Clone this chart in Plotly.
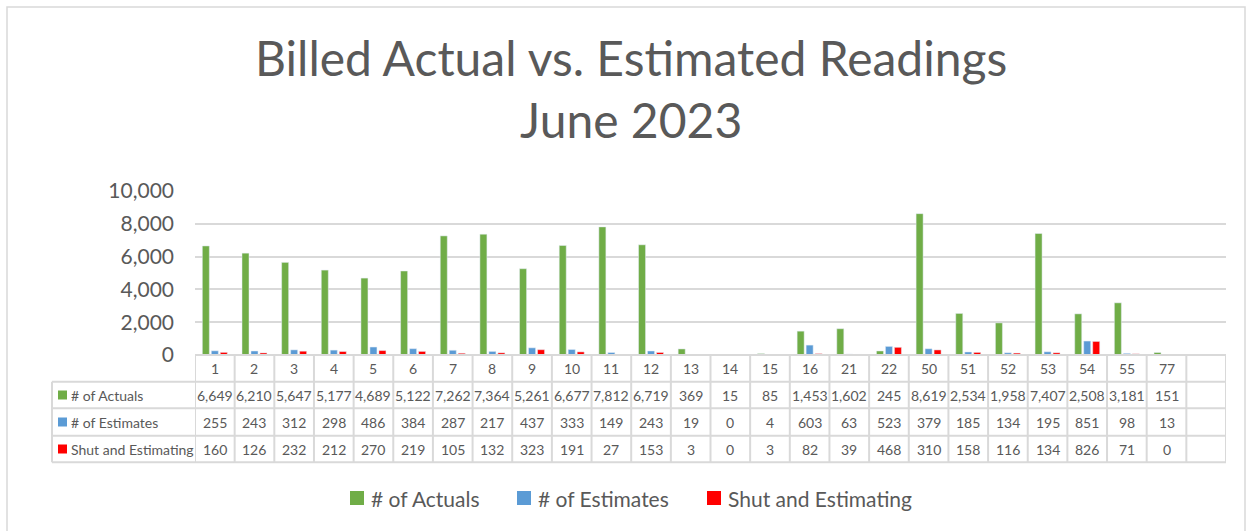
import plotly.graph_objects as go

# district / cycle codes along the x axis (last column of the table is blank)
districts = ["1", "2", "3", "4", "5", "6", "7", "8", "9", "10", "11", "12", "13",
             "14", "15", "16", "21", "22", "50", "51", "52", "53", "54", "55", "77"]
actuals = [6649, 6210, 5647, 5177, 4689, 5122, 7262, 7364, 5261, 6677, 7812, 6719, 369,
           15, 85, 1453, 1602, 245, 8619, 2534, 1958, 7407, 2508, 3181, 151]
estimates = [255, 243, 312, 298, 486, 384, 287, 217, 437, 333, 149, 243, 19,
             0, 4, 603, 63, 523, 379, 185, 134, 195, 851, 98, 13]
shut_est = [160, 126, 232, 212, 270, 219, 105, 132, 323, 191, 27, 153, 3,
            0, 3, 82, 39, 468, 310, 158, 116, 134, 826, 71, 0]

series = [("# of Actuals", actuals, "#70AD47"),
          ("# of Estimates", estimates, "#5B9BD5"),
          ("Shut and Estimating", shut_est, "#FF0000")]

FONT = "Lato, Roboto, sans-serif"
GREY = "#595959"
LINE = "#D9D9D9"

cats = districts + [" "]
ncol = len(cats)

fig = go.Figure()
for name, vals, col in series:
    fig.add_trace(go.Bar(x=districts, y=vals, name=name, marker_color=col,
                         showlegend=False))

# plot area in pixels: x 195..1226, y 191..355
PH = 164.0
def py(pix):
    return (355 - pix) / PH

def px(pix):
    return (pix - 195) / 1031.0

row_y = [355, 381.7, 408.3, 435.7, 462.3]
shapes = []
annots = []

# horizontal table lines
for i, yy in enumerate(row_y):
    shapes.append(dict(type="line", xref="paper", yref="paper",
                       x0=px(52) if i > 0 else 0, x1=1,
                       y0=py(yy), y1=py(yy), line=dict(color=LINE, width=2)))
# vertical table lines
for k in range(ncol + 1):
    shapes.append(dict(type="line", xref="x", yref="paper",
                       x0=k - 0.5, x1=k - 0.5, y0=py(row_y[0]), y1=py(row_y[-1]),
                       line=dict(color=LINE, width=2)))
shapes.append(dict(type="line", xref="paper", yref="paper",
                   x0=px(52), x1=px(52),
                   y0=py(row_y[1]), y1=py(row_y[-1]), line=dict(color=LINE, width=2)))

cell_font = dict(size=14, color=GREY, family=FONT)

# category header row
for i, c in enumerate(districts):
    annots.append(dict(x=i, xref="x", y=py((row_y[0] + row_y[1]) / 2), yref="paper",
                       yanchor="middle", xanchor="center",
                       text=c, showarrow=False, font=cell_font))

# data rows with legend keys
for r, (name, vals, col) in enumerate(series):
    yc = (row_y[r + 1] + row_y[r + 2]) / 2
    shapes.append(dict(type="rect", xref="paper", yref="paper",
                       x0=px(58), x1=px(67),
                       y0=py(yc + 4.5), y1=py(yc - 4.5), fillcolor=col, line=dict(width=0)))
    annots.append(dict(x=px(69), xref="paper", y=py(yc), yref="paper",
                       text=name, showarrow=False, xanchor="left", yanchor="middle",
                       font=cell_font))
    for i, v in enumerate(vals):
        annots.append(dict(x=i, xref="x", y=py(yc), yref="paper",
                           yanchor="middle", xanchor="center",
                           text=f"{v:,}", showarrow=False, font=cell_font))

# legend below the table
legend_x = [350, 517, 707]
for (name, vals, col), lx in zip(series, legend_x):
    shapes.append(dict(type="rect", xref="paper", yref="paper",
                       x0=px(lx), x1=px(lx + 14), y0=py(505), y1=py(491),
                       fillcolor=col, line=dict(width=0)))
    annots.append(dict(x=px(lx + 19), xref="paper", y=py(498), yref="paper",
                       text=name, showarrow=False, xanchor="left", yanchor="middle",
                       font=dict(size=21, color=GREY, family=FONT)))

# outer chart border
shapes.append(dict(type="rect", xref="paper", yref="paper",
                   x0=px(7), x1=px(1245), y0=py(545), y1=py(7),
                   line=dict(color=LINE, width=1.5)))

# title
annots.append(dict(x=px(631), xref="paper", y=py(27), yref="paper",
                   xanchor="center", yanchor="top",
                   text="Billed Actual vs. Estimated Readings<br>June 2023",
                   showarrow=False,
                   font=dict(size=48, color=GREY, family=FONT)))

fig.update_layout(
    width=1252, height=531,
    margin=dict(l=195, r=26, t=191, b=176),
    paper_bgcolor="white", plot_bgcolor="white",
    barmode="group", bargap=0.32, bargroupgap=0.22,
    showlegend=False,
    xaxis=dict(type="category", categoryorder="array", categoryarray=cats,
               range=[-0.5, ncol - 0.5], showticklabels=False, showgrid=False,
               showline=False, zeroline=False),
    yaxis=dict(range=[0, 10000], dtick=2000, tickformat=",d", showgrid=True,
               gridcolor=LINE, gridwidth=2, zeroline=False, showline=False,
               ticklabelstandoff=20,
               tickfont=dict(size=21, color=GREY, family=FONT)),
    shapes=shapes, annotations=annots,
)

fig.write_html("out.html", config={"displayModeBar": False},
               post_script="document.body.style.margin='0';")
